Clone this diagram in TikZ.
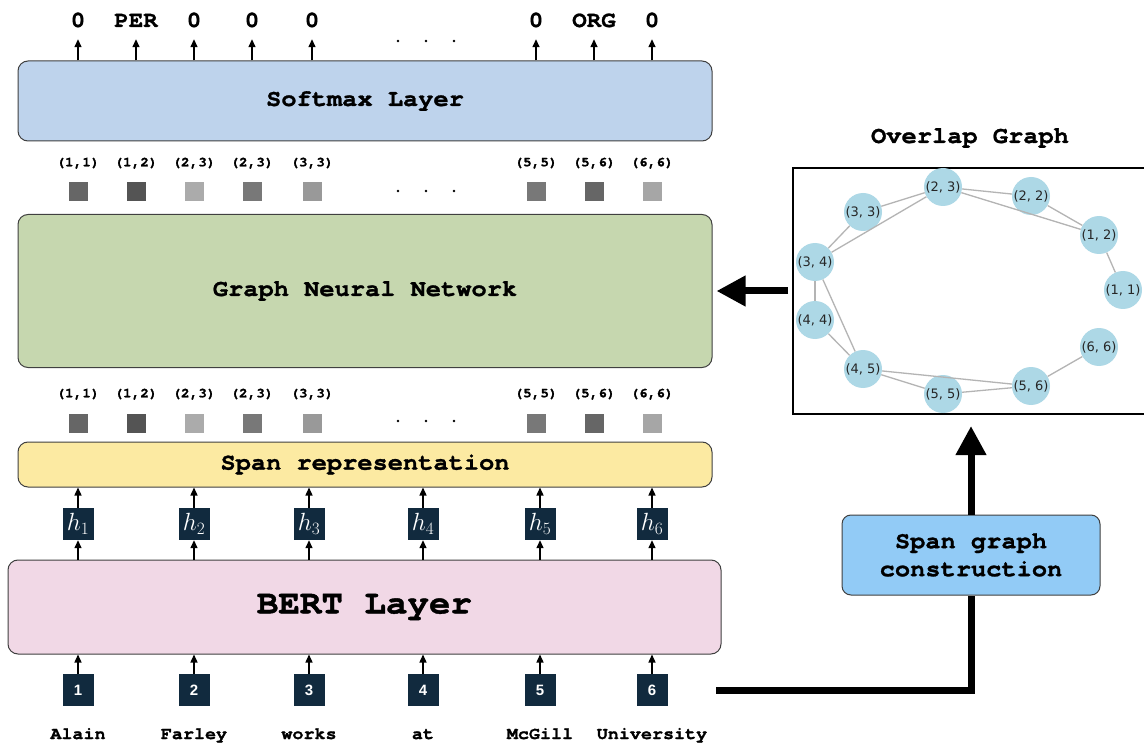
\documentclass[tikz,border=0pt]{standalone}
\usepackage{fontspec}
\usetikzlibrary{arrows.meta}
\newfontfamily\curfont{texgyrecursor-bold.otf}[FakeStretch=1.07,FakeBold=1.2]
\newfontfamily\djv{DejaVu Sans}
\newfontfamily\lbs{Liberation Sans}
\newcommand\mycf[1]{\curfont\fontsize{#1}{#1}\selectfont}
\definecolor{smxc}{HTML}{BED3EC}
\definecolor{gnnc}{HTML}{C6D7AF}
\definecolor{sprc}{HTML}{FCEAA2}
\definecolor{bertc}{HTML}{F1D8E6}
\definecolor{sgcc}{HTML}{92CBF6}
\definecolor{navy}{HTML}{112A3E}
\definecolor{lblue}{HTML}{ADD8E6}
\definecolor{edgec}{HTML}{B4B4B4}
\begin{document}
\begin{tikzpicture}[x=1pt,y=-1pt,
  layer/.style={draw=black!75, line width=1pt, rounded corners=10pt, inner sep=0pt, font=\mycf{23.7}},
  arr/.style={line width=1.4pt, -{Triangle[length=8pt,width=7pt]}},
  bigarr/.style={line width=7pt, -{Triangle[length=29pt,width=29pt]}},
  bigline/.style={line width=7pt, line join=miter},
  tok/.style={fill=navy, minimum width=31pt, minimum height=32pt, inner sep=0pt, text=white},
  sq/.style={minimum width=19pt, minimum height=19pt, inner sep=0pt},
  gn/.style={circle, fill=lblue, minimum size=38pt, inner sep=0pt, font=\djv\fontsize{13}{14}\selectfont, text=black!85},
  ge/.style={draw=edgec, line width=1.3pt},
  lbl/.style={inner sep=0pt, text depth=0pt}
]
\fill[white] (0,0) rectangle (1144,746);
\useasboundingbox (0,0) rectangle (1144,746);

% layers
\node[layer, fill=smxc, minimum width=694pt, minimum height=80pt] (smx) at (365,101) {Softmax Layer};
\node[layer, fill=gnnc, minimum width=694pt, minimum height=153pt] (gnn) at (365,291) {Graph Neural Network};
\node[layer, fill=sprc, minimum width=694pt, minimum height=45pt] (spr) at (365,464.5) {Span representation};
\node[layer, fill=bertc, minimum width=713pt, minimum height=94pt, font=\mycf{33.5}] (bert) at (364.5,607) {BERT Layer};

% outputs
\foreach \x/\t [count=\i] in {78/0,136/PER,194/0,252/0,312/0,536/0,594/ORG,652/0} {
  \node[lbl, anchor=base, font=\mycf{22.6}] (o\i) at (\x,27) {\t};
  \draw[arr, shorten >=12pt] (smx.north -| o\i) -- (o\i.south);
}

% span rows
\foreach \x/\t/\c [count=\i] in {78/{(1,1)}/60,136/{(1,2)}/67,194/{(2,3)}/33,252/{(2,3)}/53,312/{(3,3)}/40,536/{(5,5)}/53,594/{(5,6)}/60,652/{(6,6)}/35} {
  \node[lbl, font=\mycf{13.5}] (ta\i) at (\x,162) {\t};
  \node[sq, fill=black!\c] (sa\i) at (\x,192) {};
  \node[lbl, font=\mycf{13.5}] (tb\i) at (\x,393) {\t};
  \node[sq, fill=black!\c] (sb\i) at (\x,423) {};
}
\foreach \y in {41,191,421} {
  \foreach \x in {398,426,454} { \fill (\x,\y) circle (1.4pt); }
}

% tokens
\foreach \x/\w [count=\i] in {78/Alain,194/Farley,309/works,423/at,540/McGill,652/University} {
  \node[tok, font=\fontsize{24}{24}\selectfont] (h\i) at (\x,524) {$h_{\i}$};
  \node[tok, font=\lbs\bfseries\fontsize{15}{15}\selectfont] (n\i) at (\x,690) {\i};
  \node[lbl, anchor=base, font=\mycf{17.2}] (w\i) at (\x,739) {\w};
  \draw[arr] (h\i.north) -- (spr.south -| h\i);
  \draw[arr] (bert.north -| h\i) -- (h\i.south);
  \draw[arr] (n\i.north) -- (bert.south -| n\i);
}

% overlap graph
\node[draw, line width=2pt, minimum width=357pt, minimum height=246pt, inner sep=0pt] (og) at (971.5,291) {};
\node[font=\mycf{23.7}] (ogt) at (970,138) {Overlap Graph};
\node[gn] (g23) at (943,187) {(2, 3)};
\node[gn] (g22) at (1031,196) {(2, 2)};
\node[gn] (g33) at (863,212) {(3, 3)};
\node[gn] (g12) at (1099,235) {(1, 2)};
\node[gn] (g34) at (815,262) {(3, 4)};
\node[gn] (g11) at (1123,290) {(1, 1)};
\node[gn] (g44) at (815,320) {(4, 4)};
\node[gn] (g66) at (1099,347) {(6, 6)};
\node[gn] (g45) at (863,369) {(4, 5)};
\node[gn] (g56) at (1031,386) {(5, 6)};
\node[gn] (g55) at (943,394) {(5, 5)};
\foreach \a/\b in {g33/g23,g34/g23,g33/g34,g23/g22,g23/g12,g22/g12,g12/g11,g34/g44,g34/g45,g44/g45,g45/g55,g45/g56,g55/g56,g56/g66} {
  \draw[ge] (\a) -- (\b);
}

% span graph construction
\node[draw=black!75, line width=1pt, rounded corners=9pt, fill=sgcc, minimum width=258pt, minimum height=80pt, inner sep=0pt, align=center, font=\curfont\fontsize{23.7}{28}\selectfont] (sgc) at (971,555) {Span graph\\construction};
\coordinate (src) at (716,690);
\draw[bigline] (src) -| (sgc.south);
\draw[bigarr, shorten >=11pt] (sgc.north) -- (og.south -| sgc.north);
\draw[bigarr, shorten <=4pt, shorten >=4pt] (og.west) -- (gnn.east);
\end{tikzpicture}
\end{document}
